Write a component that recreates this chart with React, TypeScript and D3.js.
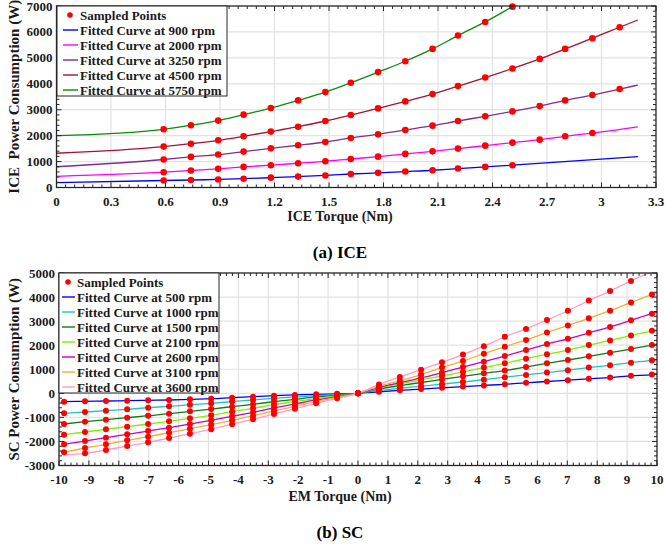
import React, { useEffect, useRef } from 'react';
import * as d3 from 'd3';

// ---- (a) ICE ----
const ICE_TORQUE = [0.59, 0.74, 0.89, 1.03, 1.18, 1.33, 1.48, 1.62, 1.77, 1.92, 2.07, 2.21, 2.36, 2.51, 2.66, 2.8, 2.95, 3.1];
const ICE_RPM = ['900', '2000', '3250', '4500', '5750'];
const ICE_COLORS = ['#0000ff', '#ff00ff', '#7e2f8e', '#a2142f', '#0b8a0b'];
const ICE_900 = [270, 290, 310, 340, 380, 420, 465, 520, 565, 615, 665, 730, 795, 860];
const ICE_2000 = [590, 655, 720, 795, 860, 935, 1010, 1100, 1190, 1295, 1395, 1500, 1615, 1730, 1845, 1975, 2100];
const ICE_3250 = [1080, 1180, 1270, 1385, 1510, 1630, 1755, 1910, 2050, 2220, 2385, 2565, 2745, 2935, 3140, 3360, 3565, 3795];
const ICE_4500 = [1577, 1690, 1820, 1975, 2155, 2345, 2565, 2795, 3050, 3320, 3605, 3910, 4240, 4590, 4960, 5345, 5757, 6180];
const ICE_5750 = [2245, 2400, 2580, 2810, 3065, 3360, 3680, 4040, 4450, 4870, 5345, 5860, 6385, 6975];
// fitted curves: value at 0 Nm and at the far end
const ICE_FIT_START = [190, 430, 800, 1320, 2000];
const ICE_FIT_END_T = [3.2, 3.2, 3.2, 3.2, 2.6];
const ICE_FIT_END = [1190, 2340, 3950, 6460, 7330];
const ICE_X_TICKS = [0, 0.3, 0.6, 0.9, 1.2, 1.5, 1.8, 2.1, 2.4, 2.7, 3, 3.3];
const ICE_Y_TICKS = [0, 1000, 2000, 3000, 4000, 5000, 6000, 7000];

// ---- (b) SC ----
const SC_TORQUE = [-9.83, -9.13, -8.43, -7.72, -7.02, -6.32, -5.62, -4.91, -4.21, -3.51, -2.81, -2.11, -1.4, -0.7, 0,
  0.7, 1.4, 2.11, 2.81, 3.51, 4.21, 4.91, 5.62, 6.32, 7.02, 7.72, 8.43, 9.13, 9.83];
const SC_RPM = ['500', '1000', '1500', '2100', '2600', '3100', '3600'];
const SC_COLORS = ['#0000ff', '#1fc3c3', '#137a13', '#7cf000', '#c800c8', '#eeb030', '#ff9cc6'];
const SC_500 = [-349, -333, -320, -308, -291, -278, -249, -224, -180, -139, -97, -69, -42, -21, 0,
  65, 125, 175, 228, 280, 328, 375, 436, 491, 546, 601, 656, 725, 780];
const SC_1000 = [-831, -777, -723, -665, -598, -540, -474, -416, -345, -277, -208, -152, -97, -55, 0,
  120, 210, 295, 380, 470, 565, 670, 766, 862, 959, 1069, 1165, 1275, 1371];
const SC_1500 = [-1276, -1180, -1097, -1014, -931, -848, -748, -653, -555, -457, -346, -249, -152, -83, 0,
  180, 320, 450, 575, 705, 830, 945, 1096, 1247, 1384, 1536, 1687, 1838, 2003];
const SC_2100 = [-1721, -1608, -1496, -1388, -1276, -1164, -1039, -914, -765, -623, -471, -346, -222, -111, 0,
  230, 395, 560, 725, 890, 1069, 1247, 1440, 1619, 1797, 2003, 2196, 2402, 2595];
const SC_2600 = [-2120, -1983, -1845, -1704, -1567, -1430, -1276, -1122, -955, -789, -609, -443, -277, -139, 0,
  250, 440, 640, 860, 1090, 1316, 1550, 1797, 2045, 2265, 2512, 2760, 3033, 3309];
const SC_3100 = [-2452, -2273, -2120, -1953, -1804, -1638, -1471, -1305, -1120, -942, -734, -540, -346, -166, 0,
  290, 520, 781, 1069, 1342, 1647, 1935, 2220, 2526, 2820, 3116, 3433, 3776, 4106];
const SC_3600 = [null, -2494, -2356, -2190, -2037, -1858, -1679, -1496, -1285, -1080, -859, -637, -415, -208, 0,
  370, 680, 980, 1290, 1610, 1960, 2350, 2677, 3048, 3430, 3858, 4250, 4670, null];
// fitted curves: value at -9.83 Nm and at 10 Nm
const SC_FIT_LEFT = [-349, -831, -1276, -1721, -2120, -2452, -2564];
const SC_FIT_RIGHT = [800, 1400, 2040, 2650, 3365, 4175, 5150];
const SC_X_TICKS = d3.range(-10, 11);
const SC_Y_TICKS = [-3000, -2000, -1000, 0, 1000, 2000, 3000, 4000, 5000];

const FONT = '"Liberation Serif", "Times New Roman", serif';
const INK = '#262626';

type Pt = [number, number];
interface Series { label: string; color: string; points: Pt[]; fit: Pt[] }
interface Panel {
  id: string;
  left: number; right: number; top: number; bottom: number;
  xDomain: [number, number]; yDomain: [number, number];
  xTicks: number[]; yTicks: number[]; xMinor: number; yMinor: number;
  xTitle: string; yTitle: string; caption: string;
  xTitleY: number; captionY: number; dotR: number;
  series: Series[];
  legend: { x: number; y: number; w: number; h: number; row0: number; lx1: number; lx2: number; dotX: number; tx: number };
}

const iceVals = [ICE_900, ICE_2000, ICE_3250, ICE_4500, ICE_5750];
const iceSeries: Series[] = iceVals.map((vals, i) => {
  const points: Pt[] = vals.map((v, j) => [ICE_TORQUE[j], v]);
  return {
    label: `Fitted Curve at ${ICE_RPM[i]} rpm`,
    color: ICE_COLORS[i],
    points,
    fit: [[0, ICE_FIT_START[i]], ...points, [ICE_FIT_END_T[i], ICE_FIT_END[i]]],
  };
});

const scVals = [SC_500, SC_1000, SC_1500, SC_2100, SC_2600, SC_3100, SC_3600];
const scSeries: Series[] = scVals.map((vals, i) => {
  const points = SC_TORQUE.map((t, j) => [t, vals[j]] as [number, number | null])
    .filter(d => d[1] != null) as Pt[];
  return {
    label: `Fitted Curve at ${SC_RPM[i]} rpm`,
    color: SC_COLORS[i],
    points,
    fit: [[SC_TORQUE[0], SC_FIT_LEFT[i]], ...points.filter(d => d[0] > SC_TORQUE[0]), [10, SC_FIT_RIGHT[i]]],
  };
});

const panels: Panel[] = [
  {
    id: 'ice', left: 56.5, right: 656, top: 6, bottom: 187.5,
    xDomain: [0, 3.3], yDomain: [0, 7000],
    xTicks: ICE_X_TICKS, yTicks: ICE_Y_TICKS, xMinor: 0.05, yMinor: 200,
    xTitle: 'ICE Torque (Nm)', yTitle: 'ICE  Power Consumption (W)', caption: '(a) ICE',
    xTitleY: 221, captionY: 258, dotR: 3.3,
    series: iceSeries,
    legend: { x: 57, y: 6, w: 170, h: 90, row0: 15, lx1: 63, lx2: 78, dotX: 70, tx: 80 },
  },
  {
    id: 'sc', left: 59, right: 657, top: 273, bottom: 465.5,
    xDomain: [-10, 10], yDomain: [-3000, 5000],
    xTicks: SC_X_TICKS, yTicks: SC_Y_TICKS, xMinor: 0.2, yMinor: 200,
    xTitle: 'EM Torque (Nm)', yTitle: 'SC Power Consumption (W)', caption: '(b) SC',
    xTitleY: 501, captionY: 538, dotR: 3,
    series: scSeries,
    legend: { x: 59, y: 273, w: 160, h: 120, row0: 282, lx1: 62, lx2: 75, dotX: 68, tx: 77 },
  },
];

const steps = (d0: number, d1: number, step: number) =>
  d3.range(Math.round((d1 - d0) / step) + 1).map(i => d0 + i * step);

function drawPanel(svg: d3.Selection<SVGSVGElement, unknown, null, undefined>, p: Panel) {
  const x = d3.scaleLinear().domain(p.xDomain).range([p.left, p.right]);
  const y = d3.scaleLinear().domain(p.yDomain).range([p.bottom, p.top]);
  const g = svg.append('g');

  // grid
  g.append('g').selectAll('line').data(p.xTicks.slice(1, -1)).join('line')
    .attr('x1', d => x(d)).attr('x2', d => x(d)).attr('y1', p.top).attr('y2', p.bottom)
    .attr('stroke', '#e2e2e2').attr('stroke-width', 1.2);
  g.append('g').selectAll('line').data(p.yTicks.slice(1, -1)).join('line')
    .attr('y1', d => y(d)).attr('y2', d => y(d)).attr('x1', p.left).attr('x2', p.right)
    .attr('stroke', '#e2e2e2').attr('stroke-width', 1.2);

  // fitted curves
  svg.append('defs').append('clipPath').attr('id', `clip-${p.id}`)
    .append('rect').attr('x', p.left).attr('y', p.top)
    .attr('width', p.right - p.left).attr('height', p.bottom - p.top);
  const line = d3.line<Pt>().x(d => x(d[0])).y(d => y(d[1])).curve(d3.curveMonotoneX);
  g.append('g').attr('clip-path', `url(#clip-${p.id})`)
    .selectAll('path').data(p.series).join('path')
    .attr('d', d => line(d.fit))
    .attr('fill', 'none').attr('stroke', d => d.color).attr('stroke-width', 1.3);

  // sampled points
  g.append('g').selectAll('g').data(p.series).join('g')
    .selectAll('circle').data(d => d.points).join('circle')
    .attr('cx', d => x(d[0])).attr('cy', d => y(d[1])).attr('r', p.dotR)
    .attr('fill', '#ff0000');

  // frame and inward ticks
  g.append('rect').attr('x', p.left).attr('y', p.top)
    .attr('width', p.right - p.left).attr('height', p.bottom - p.top)
    .attr('fill', 'none').attr('stroke', INK).attr('stroke-width', 1.3);
  const isMajor = (v: number, ticks: number[]) => ticks.some(t => Math.abs(t - v) < 1e-6);
  const xm = steps(p.xDomain[0], p.xDomain[1], p.xMinor);
  const ym = steps(p.yDomain[0], p.yDomain[1], p.yMinor);
  const tk = g.append('g').attr('stroke', INK).attr('stroke-width', 1);
  xm.forEach(v => {
    const len = isMajor(v, p.xTicks) ? 5 : 3;
    tk.append('line').attr('x1', x(v)).attr('x2', x(v)).attr('y1', p.bottom).attr('y2', p.bottom - len);
    tk.append('line').attr('x1', x(v)).attr('x2', x(v)).attr('y1', p.top).attr('y2', p.top + len);
  });
  ym.forEach(v => {
    const len = isMajor(v, p.yTicks) ? 5 : 3;
    tk.append('line').attr('y1', y(v)).attr('y2', y(v)).attr('x1', p.left).attr('x2', p.left + len);
    tk.append('line').attr('y1', y(v)).attr('y2', y(v)).attr('x1', p.right).attr('x2', p.right - len);
  });

  // tick labels
  const lab = g.append('g').attr('font-family', FONT).attr('font-weight', 'bold')
    .attr('font-size', 13).attr('fill', '#1a1a1a');
  lab.selectAll('text.x').data(p.xTicks).join('text').attr('class', 'x')
    .attr('x', d => x(d)).attr('y', p.bottom + 18).attr('text-anchor', 'middle')
    .text(d => String(d));
  lab.selectAll('text.y').data(p.yTicks).join('text').attr('class', 'y')
    .attr('x', p.left - 4).attr('y', d => y(d) + 4.5).attr('text-anchor', 'end')
    .text(d => String(d));

  // titles
  g.append('text').attr('x', 340).attr('y', p.xTitleY).attr('text-anchor', 'middle')
    .attr('font-family', FONT).attr('font-weight', 'bold').attr('font-size', 14).attr('fill', '#1a1a1a')
    .text(p.xTitle);
  g.append('text')
    .attr('transform', `translate(19,${(p.top + p.bottom) / 2}) rotate(-90)`)
    .attr('text-anchor', 'middle').style('white-space', 'pre')
    .attr('font-family', FONT).attr('font-weight', 'bold').attr('font-size', 15).attr('fill', '#1a1a1a')
    .text(p.yTitle);
  g.append('text').attr('x', 340).attr('y', p.captionY).attr('text-anchor', 'middle')
    .attr('font-family', FONT).attr('font-weight', 'bold').attr('font-size', 17).attr('fill', '#000')
    .text(p.caption);

  // legend
  const L = p.legend;
  const lg = g.append('g');
  lg.append('rect').attr('x', L.x).attr('y', L.y).attr('width', L.w).attr('height', L.h)
    .attr('fill', '#fff').attr('stroke', INK).attr('stroke-width', 1);
  const rows = [{ label: 'Sampled Points', color: '' }, ...p.series.map(s => ({ label: s.label, color: s.color }))];
  rows.forEach((r, i) => {
    const cy = L.row0 + i * 15;
    if (i === 0) {
      lg.append('circle').attr('cx', L.dotX).attr('cy', cy).attr('r', 2.8).attr('fill', '#ff0000');
    } else {
      lg.append('line').attr('x1', L.lx1).attr('x2', L.lx2).attr('y1', cy).attr('y2', cy)
        .attr('stroke', r.color).attr('stroke-width', 1.4);
    }
    lg.append('text').attr('x', L.tx).attr('y', cy + 4.5)
      .attr('font-family', FONT).attr('font-weight', 'bold').attr('font-size', 13).attr('fill', '#1a1a1a')
      .text(r.label);
  });
}

const App = () => {
  const ref = useRef<SVGSVGElement>(null);

  useEffect(() => {
    const svg = d3.select(ref.current as SVGSVGElement);
    svg.selectAll('*').remove();
    panels.forEach(p => drawPanel(svg, p));
  }, []);

  return (
    <svg ref={ref} width={665} height={545}
      style={{ position: 'absolute', left: 0, top: 0, background: '#fff' }} />
  );
};

export default App;
